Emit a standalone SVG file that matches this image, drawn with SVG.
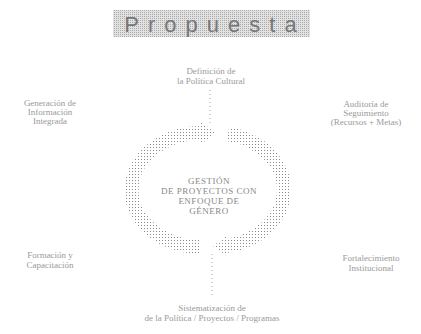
<svg xmlns="http://www.w3.org/2000/svg" width="421" height="334" viewBox="0 0 421 334">
<defs>
<pattern id="dots" width="3" height="3" patternUnits="userSpaceOnUse"><rect width="1" height="1" fill="#8a8a8a"/></pattern>
<pattern id="dots2" width="2" height="2" patternUnits="userSpaceOnUse"><rect width="2" height="2" fill="#e2e2e2"/><rect width="1" height="1" fill="#aaa"/></pattern>
</defs>
<style>
.t{font-family:"Liberation Serif",serif;font-size:9px;fill:#9a9a9a;text-anchor:middle}
.c{font-family:"Liberation Serif",serif;font-size:9px;fill:#888;text-anchor:middle;letter-spacing:0.5px}
.ttl{font-family:"Liberation Sans",sans-serif;font-size:22px;fill:#777;text-anchor:middle;letter-spacing:9px}
.dl{stroke:#aaa;stroke-width:1;stroke-dasharray:1 3;fill:none}
.arc{fill:none;stroke:url(#dots);stroke-width:14}
.ah{fill:url(#dots)}
</style>
<rect width="421" height="334" fill="#fff"/>
<g id="title">
<rect x="113" y="10" width="197" height="27" fill="url(#dots2)"/>
<text class="ttl" x="215" y="32">Propuesta</text>
</g>
<g id="connectors">
<line class="dl" x1="210" y1="90" x2="210" y2="126"/>
<line class="dl" x1="212" y1="254" x2="212" y2="298"/>
<path class="arc" d="M200,247 A70,57 0 0 1 203,133"/>
<polygon class="ah" points="201,122 216,133 201,144"/>
<path class="arc" d="M228,134 A70,57 0 0 1 226,246"/>
<polygon class="ah" points="228,235 213,246 228,257"/>
</g>
<g id="center">
<text class="c" x="209" y="184">GESTIÓN</text>
<text class="c" x="209" y="194">DE PROYECTOS CON</text>
<text class="c" x="209" y="204">ENFOQUE DE</text>
<text class="c" x="209" y="214">GÉNERO</text>
</g>
<g id="top">
<text class="t" x="211" y="74">Definición de</text>
<text class="t" x="211" y="84">la Política Cultural</text>
</g>
<g id="topleft">
<text class="t" x="50" y="106">Generación de</text>
<text class="t" x="50" y="115">Información</text>
<text class="t" x="50" y="124">Integrada</text>
</g>
<g id="topright">
<text class="t" x="366" y="107">Auditoría de</text>
<text class="t" x="366" y="116">Seguimiento</text>
<text class="t" x="366" y="125">(Recursos + Metas)</text>
</g>
<g id="bottomleft">
<text class="t" x="50" y="258">Formación y</text>
<text class="t" x="50" y="268">Capacitación</text>
</g>
<g id="bottomright">
<text class="t" x="371" y="261">Fortalecimiento</text>
<text class="t" x="371" y="271">Institucional</text>
</g>
<g id="bottom">
<text class="t" x="212" y="311">Sistematización de</text>
<text class="t" x="212" y="321">de la Política / Proyectos / Programas</text>
</g>
</svg>
